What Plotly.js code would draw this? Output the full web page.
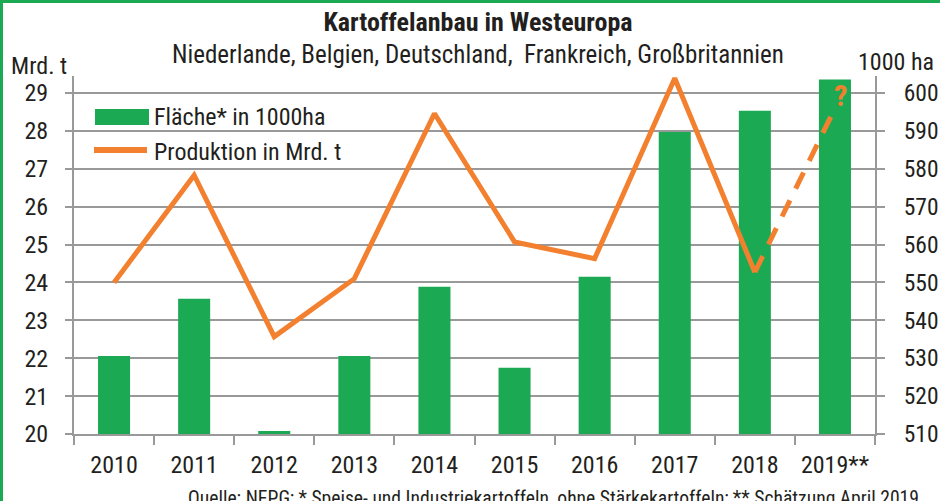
<!DOCTYPE html>
<html>
<head>
<meta charset="utf-8">
<script src="https://cdn.plot.ly/plotly-3.0.1.min.js"></script>
<style>
html,body{margin:0;padding:0;background:#fff;}
#wrap{position:relative;width:940px;height:501px;overflow:hidden;}
#chart{width:940px;height:501px;}
#frame{position:absolute;left:0;top:0;width:940px;height:501px;border-left:3px solid #1BAA53;border-top:3px solid #1BAA53;box-sizing:border-box;pointer-events:none;}
</style>
</head>
<body>
<div id="wrap"><div id="chart"></div><div id="frame"></div></div>
<script>
// ---- data ----
const years = ['2010','2011','2012','2013','2014','2015','2016','2017','2018','2019**'];
const flaeche = [530.6, 545.7, 510.8, 530.6, 548.9, 527.5, 551.5, 589.7, 595.3, 603.6]; // 1000 ha
const prodYears = ['2010','2011','2012','2013','2014','2015','2016','2017','2018'];
const produktion = [24.0, 26.83, 22.57, 24.1, 28.46, 25.07, 24.63, 29.39, 24.27]; // Mrd. t
const schaetzYears = ['2018','2019**'];
const schaetzung = [24.27, 28.6];
const leftTicks = [20,21,22,23,24,25,26,27,28,29];
const rightTicks = [510,520,530,540,550,560,570,580,590,600];

// ---- layout helpers ----
const FONT = '"Roboto Condensed", "Liberation Sans Narrow", sans-serif';
const GREEN = '#1BAA53', ORANGE = '#F2802F', GRAY = '#999999', TXT = '#231f20';
const M = {l:74, r:65, t:76, b:67};
const W = 940 - M.l - M.r, H = 501 - M.t - M.b;
const px = x => (x - M.l) / W;
const py = y => 1 - (y - M.t) / H;

const traces = [
  {type:'bar', x:years, y:flaeche, yaxis:'y', marker:{color:GREEN}, name:'Fläche* in 1000ha', showlegend:false, hoverinfo:'skip'},
  {type:'scatter', mode:'lines', x:prodYears, y:produktion, yaxis:'y2', line:{color:ORANGE, width:5}, name:'Produktion in Mrd. t', showlegend:false, hoverinfo:'skip'},
  {type:'scatter', mode:'lines', x:schaetzYears, y:schaetzung, yaxis:'y2', line:{color:ORANGE, width:5, dash:'18px,13px'}, showlegend:false, hoverinfo:'skip'}
];

const layout = {
  width:940, height:501, margin:M, paper_bgcolor:'#fff', plot_bgcolor:'#fff',
  font:{family:FONT, color:TXT, size:24},
  showlegend:false, bargap:0.6,
  title:{text:'<b>Kartoffelanbau in Westeuropa</b>', font:{size:26, family:FONT, color:TXT}, xref:'container', x:478/940, xanchor:'center', yref:'container', y:1-22/501, yanchor:'middle'},
  xaxis:{type:'category', tickson:'boundaries', ticks:'outside', ticklen:9, tickwidth:2, tickcolor:GRAY, tickangle:0,
         showline:true, linecolor:GRAY, linewidth:2, showgrid:false, zeroline:false,
         tickfont:{size:24}, ticklabelstandoff:8},
  yaxis:{side:'right', range:[510, 604.5], tickvals:rightTicks, ticks:'outside', ticklen:8, tickwidth:2, tickcolor:GRAY,
         showline:true, linecolor:GRAY, linewidth:2, showgrid:true, gridcolor:GRAY, gridwidth:2, zeroline:false,
         tickfont:{size:23.5}, ticklabelstandoff:14},
  yaxis2:{side:'left', overlaying:'y', range:[20, 29.45], tickvals:leftTicks, ticks:'outside', ticklen:7, tickwidth:2, tickcolor:GRAY,
         showline:true, linecolor:GRAY, linewidth:2, showgrid:false, zeroline:false,
         tickfont:{size:24}, ticklabelstandoff:12},
  shapes:[
    {type:'rect', xref:'paper', yref:'paper', x0:px(95), x1:px(149), y0:py(125), y1:py(109), fillcolor:GREEN, line:{width:0}},
    {type:'line', xref:'paper', yref:'paper', x0:px(94), x1:px(147), y0:py(150), y1:py(150), line:{color:ORANGE, width:6}}
  ],
  annotations:[
    {xref:'paper', yref:'paper', x:px(478), y:py(55), text:'Niederlande, Belgien, Deutschland,  Frankreich, Großbritannien', showarrow:false, xanchor:'center', yanchor:'middle', font:{size:25}},
    {xref:'paper', yref:'paper', x:px(9), y:py(66), text:'Mrd. t', showarrow:false, xanchor:'left', yanchor:'middle', font:{size:24}},
    {xref:'paper', yref:'paper', x:px(936), y:py(62), text:'1000 ha', showarrow:false, xanchor:'right', yanchor:'middle', font:{size:24}},
    {xref:'paper', yref:'paper', x:px(152), y:py(117), text:'Fläche* in 1000ha', showarrow:false, xanchor:'left', yanchor:'middle', font:{size:24}},
    {xref:'paper', yref:'paper', x:px(152), y:py(152), text:'Produktion in Mrd. t', showarrow:false, xanchor:'left', yanchor:'middle', font:{size:24}},
    {xref:'x', yref:'y2', x:'2019**', y:schaetzung[1], text:'<b>?</b>', showarrow:false, xanchor:'center', yanchor:'middle', xshift:6, yshift:13, font:{size:30, color:ORANGE}},
    {xref:'paper', yref:'paper', x:px(921), y:py(485), text:'Quelle: NEPG; * Speise- und Industriekartoffeln, ohne Stärkekartoffeln; ** Schätzung April 2019', showarrow:false, xanchor:'right', yanchor:'top', font:{size:19.6}}
  ]
};

Plotly.newPlot('chart', traces, layout, {displayModeBar:false, staticPlot:true});
</script>
</body>
</html>
